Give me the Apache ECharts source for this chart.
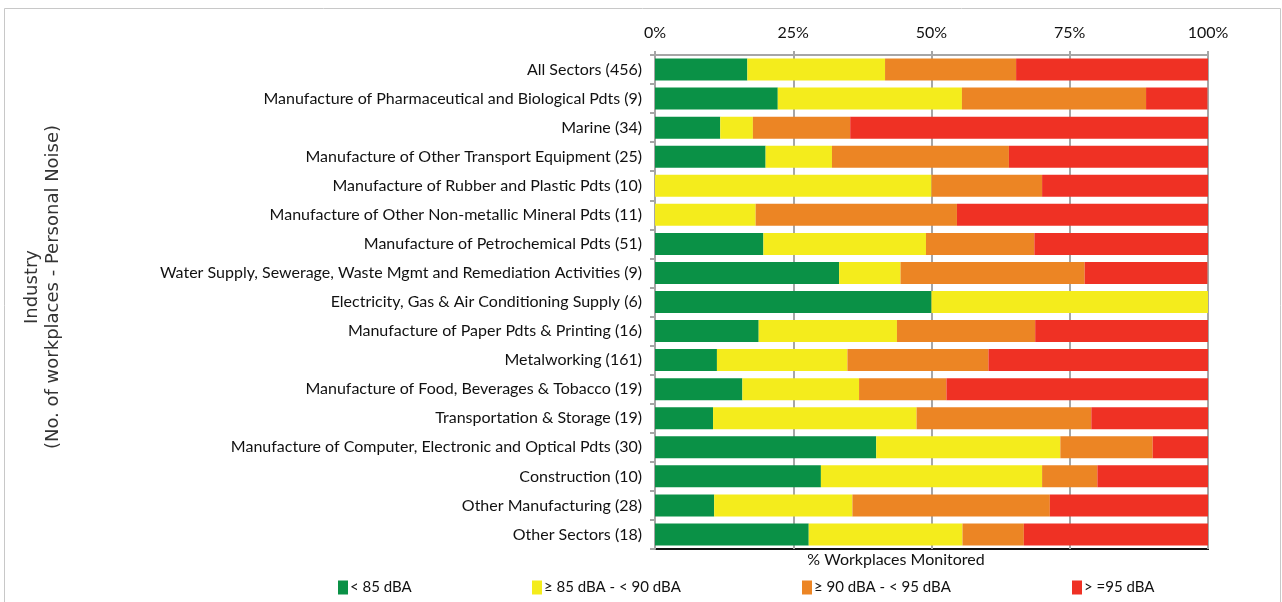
<!DOCTYPE html>
<html>
<head>
<meta charset="utf-8">
<script src="https://cdn.jsdelivr.net/npm/echarts@6/dist/echarts.min.js"></script>
<style>
  html, body { margin: 0; padding: 0; background: #fff; }
  #chart { width: 1282px; height: 602px; }
</style>
</head>
<body>
<div id="chart"></div>
<script>
// industries, top to bottom (percent of workplaces monitored)
const industries = [
  'All Sectors (456)',
  'Manufacture of Pharmaceutical and Biological Pdts (9)',
  'Marine (34)',
  'Manufacture of Other Transport Equipment (25)',
  'Manufacture of Rubber and Plastic Pdts (10)',
  'Manufacture of Other Non-metallic Mineral Pdts (11)',
  'Manufacture of Petrochemical Pdts (51)',
  'Water Supply, Sewerage, Waste Mgmt and Remediation Activities (9)',
  'Electricity, Gas & Air Conditioning Supply (6)',
  'Manufacture of Paper Pdts & Printing (16)',
  'Metalworking (161)',
  'Manufacture of Food, Beverages & Tobacco (19)',
  'Transportation & Storage (19)',
  'Manufacture of Computer, Electronic and Optical Pdts (30)',
  'Construction (10)',
  'Other Manufacturing (28)',
  'Other Sectors (18)'
]
const below85    = [16.7, 22.2, 11.8, 20, 0, 0, 19.6, 33.3, 50, 18.75, 11.2, 15.8, 10.5, 40, 30, 10.7, 27.8]
const from85to90 = [24.9, 33.3, 5.9, 12, 50, 18.2, 29.4, 11.1, 50, 25, 23.6, 21.1, 36.8, 33.3, 40, 25, 27.8]
const from90to95 = [23.7, 33.3, 17.6, 32, 20, 36.4, 19.6, 33.3, 0, 25, 25.5, 15.8, 31.6, 16.7, 10, 35.7, 11.1]
const atLeast95  = [34.7, 11.1, 64.7, 36, 30, 45.5, 31.4, 22.2, 0, 31.25, 39.8, 47.4, 21.1, 10, 20, 28.6, 33.3]
const xTicks = [0, 25, 50, 75, 100]

const seriesNames = ['< 85 dBA', '≥ 85 dBA - < 90 dBA', '≥ 90 dBA - < 95 dBA', '> =95 dBA']
const seriesData = [below85, from85to90, from90to95, atLeast95]
const colors = ['#0a9146', '#f4ec1c', '#ec8524', '#ef3124']
const legendLeft = [333, 527, 797, 1067]

const chart = echarts.init(document.getElementById('chart'))

const option = {
  backgroundColor: '#fff',
  animation: false,
  color: colors,
  grid: {
    left: 655,
    right: 74,
    top: 55,
    bottom: 53,
    show: true,
    borderColor: '#111',
    borderWidth: 2,
    backgroundColor: 'transparent'
  },
  legend: seriesNames.map((name, i) => ({
    data: [name],
    left: legendLeft[i],
    top: 575,
    itemWidth: 10,
    itemHeight: 14,
    itemGap: 4,
    icon: 'rect',
    textStyle: { color: '#111', fontSize: 15, fontFamily: 'Lato', padding: [0, 0, 0, -3] }
  })),
  xAxis: {
    type: 'value',
    position: 'top',
    min: xTicks[0],
    max: xTicks[xTicks.length - 1],
    interval: 25,
    axisLine: { show: true, lineStyle: { color: '#a6a6a6', width: 2 } },
    axisTick: { show: true, length: 4, lineStyle: { color: '#a6a6a6', width: 2 } },
    axisLabel: { color: '#111', fontSize: 16, fontFamily: 'Lato', margin: 14, formatter: '{value}%' },
    splitLine: { show: true, lineStyle: { color: '#a6a6a6', width: 2 } }
  },
  yAxis: {
    type: 'category',
    inverse: true,
    data: industries,
    axisLine: { show: true, lineStyle: { color: '#a6a6a6', width: 2 } },
    axisTick: { show: true, length: 5, lineStyle: { color: '#a6a6a6', width: 2 } },
    axisLabel: { color: '#111', fontSize: 16, fontFamily: 'Lato', margin: 13 }
  },
  graphic: [
    {
      type: 'rect',
      shape: { x: 4.5, y: 8.5, width: 1276, height: 600 },
      style: { fill: 'none', stroke: '#c8c8c8', lineWidth: 1 },
      silent: true
    },
    {
      type: 'text',
      x: 43,
      y: 287,
      rotation: Math.PI / 2,
      style: {
        text: 'Industry\n(No. of workplaces - Personal Noise)',
        align: 'center',
        verticalAlign: 'middle',
        fontSize: 18,
        lineHeight: 21,
        fontFamily: 'DejaVu Sans',
        fill: '#333'
      }
    },
    {
      type: 'text',
      x: 896,
      y: 560,
      style: {
        text: '% Workplaces Monitored',
        align: 'center',
        verticalAlign: 'middle',
        fontSize: 16,
        fontFamily: 'Lato',
        fill: '#111'
      }
    }
  ],
  series: seriesNames.map((name, i) => ({
    name,
    type: 'bar',
    stack: 'total',
    barWidth: 22,
    itemStyle: { color: colors[i] },
    data: seriesData[i]
  }))
}

chart.setOption(option)
</script>
</body>
</html>
